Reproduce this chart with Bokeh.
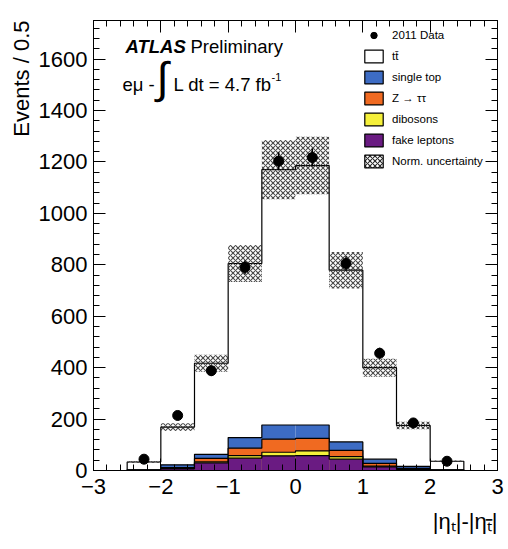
import numpy as np
from bokeh.plotting import figure
from bokeh.models import (FixedTicker, LinearAxis, Range1d, Label, Legend, LegendItem, Title)
from bokeh.embed import file_html
from bokeh.resources import INLINE

# ---------------- data ----------------
bin_edges = [-2.5, -2.0, -1.5, -1.0, -0.5, 0.0, 0.5, 1.0, 1.5, 2.0, 2.5]
data_counts = [44, 214, 388, 790, 1203, 1217, 805, 456, 185, 36]
data_errors = [7, 15, 20, 28, 35, 35, 28, 21, 14, 6]
ttbar = [30, 147, 354, 677, 993, 1009, 668, 356, 159, 33]
single_top = [1, 11, 16, 41, 55, 52, 33, 16, 8, 1]
z_tautau = [1, 4, 13, 29, 51, 49, 24, 11, 3, 1]
dibosons = [0, 1, 4, 10, 14, 18, 10, 3, 1, 0]
fake_leptons = [1, 6, 30, 48, 57, 58, 44, 14, 4, 1]
norm_unc = [3, 15, 33, 72, 115, 112, 71, 35, 15, 3]

x_major_ticks = [-3, -2, -1, 0, 1, 2, 3]
x_minor_ticks = [round(-3 + 0.2 * i, 1) for i in range(31)]
y_major_ticks = [0, 200, 400, 600, 800, 1000, 1200, 1400, 1600]
y_minor_ticks = [40 * i for i in range(44)]

FONT = "Liberation Sans"
W, H = 508, 549
L_B, R_B, T_B, B_B = 93, 11, 20, 79
X0, X1, Y0, Y1 = -3.0, 3.0, 0.0, 1750.0

def px_x(px):
    return X0 + (px - L_B) * (X1 - X0) / (W - L_B - R_B)

def px_y(py):
    return Y0 + (H - B_B - py) * (Y1 - Y0) / (H - T_B - B_B)

p = figure(width=W, height=H, output_backend="svg", toolbar_location=None,
           x_range=Range1d(X0, X1), y_range=Range1d(Y0, Y1),
           min_border_left=L_B, min_border_right=R_B, min_border_top=T_B,
           min_border_bottom=B_B)
p.grid.visible = False
p.outline_line_color = "black"
p.outline_line_width = 1
p.background_fill_color = "white"
p.border_fill_color = "white"

HATCH = dict(hatch_pattern="diagonal_cross", hatch_color="#2a2a2a",
             hatch_scale=5, hatch_weight=1.1)

# ---------------- stacked histogram ----------------
edges = np.array(bin_edges)
lefts, rights = edges[:-1], edges[1:]
layers = [
    (fake_leptons, "#6a1b82", "fake leptons"),
    (dibosons, "#f5f03a", "dibosons"),
    (z_tautau, "#f06a21", "Z \u2192 \u03c4\u03c4"),
    (single_top, "#3d6cc4", "single top"),
    (ttbar, "white", "t\u0074\u0304"),
]
cum = []
running = np.zeros(len(lefts))
for vals, col, name in layers:
    running = running + np.array(vals, dtype=float)
    cum.append(running.copy())

# draw like ROOT THStack: largest cumulative first
for (vals, col, name), c in reversed(list(zip(layers, cum))):
    p.quad(left=lefts, right=rights, bottom=0, top=c, fill_color=col,
           line_color=None)
    sx = np.concatenate([[edges[0]], edges[:-1], [edges[-1]]])
    sy = np.concatenate([[0], c, [0]])
    p.step(x=sx, y=sy, mode="after", line_color="black", line_width=1.2)

total = cum[-1]
unc = np.array(norm_unc, dtype=float)
p.quad(left=lefts, right=rights, bottom=total - unc, top=total + unc,
       fill_color=None, line_color=None, hatch_alpha=0.85, **HATCH)

# ---------------- data points ----------------
centers = (lefts + rights) / 2
dc = np.array(data_counts, dtype=float)
de = np.array(data_errors, dtype=float)
p.segment(x0=centers, x1=centers, y0=dc - de, y1=dc + de, line_color="black",
          line_width=1.5)
p.scatter(x=centers, y=dc, size=10, color="black")

# ---------------- axes ----------------
def style_axis(ax, ticks, minor, labels=True):
    ax.ticker = FixedTicker(ticks=ticks, minor_ticks=minor)
    ax.major_tick_in = 12
    ax.major_tick_out = 0
    ax.minor_tick_in = 6
    ax.minor_tick_out = 0
    ax.axis_line_color = "black"
    ax.major_tick_line_color = "black"
    ax.minor_tick_line_color = "black"
    ax.major_label_text_font = FONT
    if labels:
        ax.major_label_text_color = "black"
        ax.major_label_text_font_size = "22px"
    else:
        ax.major_label_text_color = None
        ax.major_label_text_font_size = "1px"
        ax.major_label_standoff = 0

style_axis(p.xaxis[0], x_major_ticks, x_minor_ticks)
style_axis(p.yaxis[0], y_major_ticks, y_minor_ticks)
p.xaxis[0].major_label_standoff = 8
p.yaxis[0].major_label_standoff = 6

ax_r = LinearAxis()
style_axis(ax_r, y_major_ticks, y_minor_ticks, labels=False)
p.add_layout(ax_r, "right")
ax_t = LinearAxis()
style_axis(ax_t, x_major_ticks, x_minor_ticks, labels=False)
p.add_layout(ax_t, "above")

# axis titles (ROOT style: aligned to the axis end)
p.add_layout(Title(text="Events / 0.5", align="right", text_font=FONT,
                   text_font_size="22px", text_font_style="normal",
                   text_color="black", standoff=4), "left")
p.add_layout(Title(text="|\u03b7\u209c|-|\u03b7\u209c\u0304|", align="right",
                   text_font=FONT, text_font_size="22px",
                   text_font_style="normal", text_color="black",
                   standoff=20), "below")

# ---------------- legend (proxy renderers carry no visible data) ----------------
nan = [np.nan]
r_data = p.scatter(x=nan, y=nan, size=10, color="black")
legend_items = [LegendItem(label="2011 Data", renderers=[r_data])]
for vals, col, name in reversed(layers):
    r = p.quad(left=nan, right=nan, top=nan, bottom=nan, fill_color=col,
               line_color="black", line_width=1.2)
    legend_items.append(LegendItem(label=name, renderers=[r]))
r_unc = p.quad(left=nan, right=nan, top=nan, bottom=nan, fill_color="white",
               line_color="black", line_width=1.2, **HATCH)
legend_items.append(LegendItem(label="Norm. uncertainty", renderers=[r_unc]))
legend = Legend(items=legend_items, location=(269, 300),
                glyph_width=23, glyph_height=16, label_height=18,
                spacing=3, padding=4, label_standoff=7, margin=0,
                label_text_font=FONT, label_text_font_size="11.5px",
                label_text_color="black",
                border_line_color=None, background_fill_alpha=0)
p.add_layout(legend, "center")

# ---------------- texts inside the frame ----------------
def add_text(txt, x, y, size, align="left", baseline="alphabetic",
             style="normal"):
    p.add_layout(Label(x=x, y=y, text=txt, text_font=FONT,
                       text_font_size=size, text_align=align,
                       text_baseline=baseline, text_font_style=style,
                       text_color="black"))

add_text("ATLAS", px_x(125), px_y(46), "18.5px", style="bold italic")
add_text("Preliminary", px_x(190), px_y(46), "18.5px")
add_text("e\u03bc -", px_x(122), px_y(84), "18.5px")
add_text("\u222b", px_x(162), px_y(77), "44px", align="center", baseline="middle")
add_text("L dt = 4.7 fb", px_x(173), px_y(84), "18.5px")
add_text("-1", px_x(271), px_y(76), "11px")

open("out.html", "w").write(file_html(p, INLINE))
